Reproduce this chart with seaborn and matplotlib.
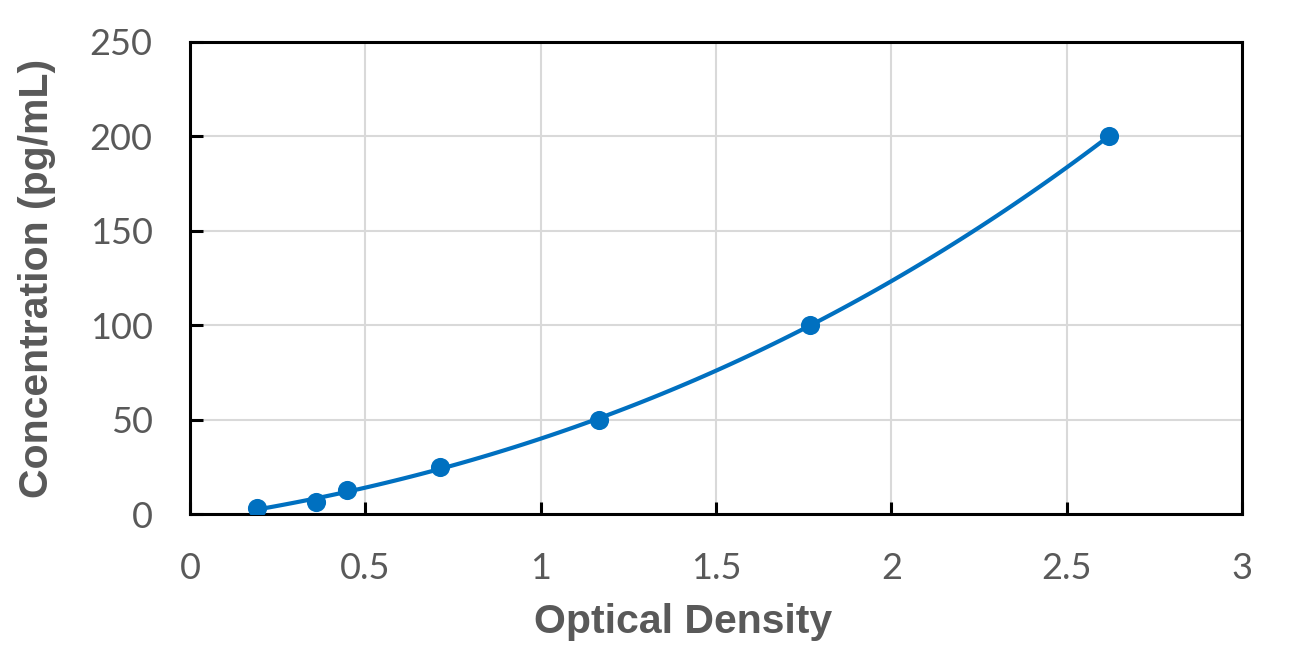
import numpy as np
import pandas as pd
import seaborn as sns
import matplotlib
matplotlib.use("Agg")
import matplotlib.pyplot as plt

optical_density = [0.191, 0.359, 0.448, 0.713, 1.166, 1.768, 2.620]
concentration = [3.12, 6.25, 12.5, 25, 50, 100, 200]
x_ticks = [0, 0.5, 1, 1.5, 2, 2.5, 3]
x_tick_labels = ["0", "0.5", "1", "1.5", "2", "2.5", "3"]
y_ticks = [0, 50, 100, 150, 200, 250]
y_tick_labels = ["0", "50", "100", "150", "200", "250"]

df = pd.DataFrame({"Optical Density": optical_density, "Concentration": concentration})

sns.set_style("white")
plt.rcParams['font.family'] = ['Lato', 'DejaVu Sans']

fig = plt.figure(figsize=(13.08, 6.59), dpi=100)
ax = fig.add_axes([0.1453, 0.22, 0.8042, 0.7163])

color = "#0070C0"
sns.regplot(data=df, x="Optical Density", y="Concentration", order=3, ci=None,
            truncate=True, ax=ax, color=color,
            scatter_kws=dict(s=190, color=color, alpha=1, zorder=3, linewidths=0),
            line_kws=dict(lw=3.0, color=color, zorder=2))

ax.set_xlim(0, 3)
ax.set_ylim(0, 250)
ax.set_xticks(x_ticks)
ax.set_xticklabels(x_tick_labels)
ax.set_yticks(y_ticks)
ax.set_yticklabels(y_tick_labels)
ax.grid(True, color="#d9d9d9", lw=1.5)
ax.set_axisbelow(True)
for s in ax.spines.values():
    s.set_visible(True)
    s.set_color("black")
    s.set_linewidth(2.2)
ax.tick_params(axis="both", direction="in", length=9, width=2.2, colors="black",
               labelcolor="#595959", labelsize=26)
ax.tick_params(axis="x", top=False, bottom=True, pad=27)
ax.tick_params(axis="y", left=True, right=False, pad=27)
ax.set_xlabel("Optical Density", fontsize=29.5, fontweight="bold", color="#595959",
              family=["Liberation Sans", "DejaVu Sans"], va="center", ha="center")
ax.set_ylabel("Concentration (pg/mL)", fontsize=29.5, fontweight="bold", color="#595959",
              family=["Liberation Sans", "DejaVu Sans"], va="center", ha="center")
ax.xaxis.set_label_coords(0.469, -0.229)
ax.yaxis.set_label_coords(-0.1454, 0.5)

fig.savefig("out.png", dpi=100)
